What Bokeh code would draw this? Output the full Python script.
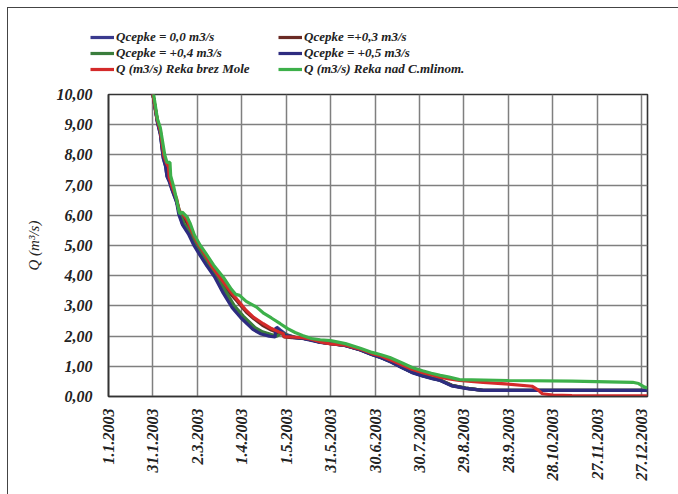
from bokeh.plotting import figure
from bokeh.layouts import column
from bokeh.models import (Range1d, FixedTicker, CustomJSTickFormatter, Legend, LegendItem)
from bokeh.embed import file_html
from bokeh.resources import INLINE
import math

# ---------------- data ----------------
tick_days = [0, 30, 60, 90, 120, 150, 180, 210, 240, 270, 300, 330, 360]
tick_labels = ["1.1.2003", "31.1.2003", "2.3.2003", "1.4.2003", "1.5.2003", "31.5.2003",
               "30.6.2003", "30.7.2003", "29.8.2003", "28.9.2003", "28.10.2003",
               "27.11.2003", "27.12.2003"]
y_ticks = [0, 1, 2, 3, 4, 5, 6, 7, 8, 9, 10]

# Qcepke = 0,0 m3/s
q00_days = [28, 30, 33, 35, 37, 38.5, 39.5, 41, 43, 46, 48, 50, 55, 58, 62, 67, 72, 78, 84,
            90, 98, 103, 109, 113, 113.5, 116, 120, 126, 131, 137, 143, 150, 160, 170,
            178, 184, 190, 198, 205, 212, 218, 224, 232, 241, 253, 300, 364]
q00_vals = [10.6, 10.0, 9.1, 8.7, 7.9, 7.65, 7.3, 7.15, 6.85, 6.45, 6.05, 5.7, 5.4, 5.05,
            4.72, 4.35, 4.0, 3.45, 2.96, 2.62, 2.24, 2.1, 2.02, 1.98, 2.3, 2.2, 2.05, 1.96,
            1.93, 1.87, 1.8, 1.76, 1.69, 1.55, 1.39, 1.29, 1.17, 0.97, 0.8, 0.69, 0.61,
            0.54, 0.36, 0.28, 0.2, 0.2, 0.2]

# Qcepke = +0,3 m3/s
q03_days = [28, 30, 33, 35, 37.5, 39, 40.5, 41, 43, 46, 48, 50, 53, 56, 60, 64, 70, 76,
            82, 87, 93, 98, 104, 110, 115, 118, 118.5, 124, 131, 137, 143, 150, 160, 170,
            178, 184, 190, 198, 205, 212, 218, 224, 232, 241, 253, 300, 364]
q03_vals = [10.6, 10.0, 9.12, 8.75, 7.92, 7.72, 7.55, 7.22, 6.9, 6.48, 6.05, 5.95, 5.75,
            5.42, 5.0, 4.68, 4.22, 3.82, 3.42, 3.15, 2.8, 2.58, 2.36, 2.2, 2.1, 2.05, 1.97,
            1.95, 1.93, 1.88, 1.8, 1.75, 1.69, 1.55, 1.4, 1.3, 1.18, 0.98, 0.81, 0.7, 0.62,
            0.55, 0.37, 0.28, 0.2, 0.2, 0.2]

# Qcepke = +0,4 m3/s
q04_days = [28, 30, 33, 35, 37, 39, 40, 41.5, 43.5, 46, 48.5, 51, 56, 59, 63, 68, 73, 79,
            85, 91, 99, 104, 110, 114, 117, 121, 126, 131, 137, 143, 150, 160, 170, 178,
            184, 190, 198, 205, 212, 218, 224, 232, 241, 253, 300, 364]
q04_vals = [10.6, 10.0, 9.15, 8.75, 7.95, 7.68, 7.35, 7.18, 6.88, 6.47, 6.05, 5.72, 5.42,
            5.08, 4.75, 4.38, 4.02, 3.5, 3.0, 2.66, 2.28, 2.14, 2.05, 2.0, 2.12, 2.02, 1.96,
            1.93, 1.87, 1.8, 1.76, 1.69, 1.55, 1.39, 1.29, 1.17, 0.97, 0.8, 0.69, 0.61, 0.54,
            0.36, 0.28, 0.2, 0.2, 0.2]

# Qcepke = +0,5 m3/s
q05_days = [28, 30, 33, 35, 37, 38.5, 39.5, 41, 43, 46, 47.5, 50, 54, 57.5, 61.5, 66.5, 71.5,
            77.5, 83.5, 89.5, 97.5, 102.5, 108.5, 112.5, 113, 115.5, 119.5, 125.5, 131, 137,
            143, 150, 160, 170, 178, 184, 190, 198, 205, 212, 218, 224, 232, 241, 253, 300, 364]
q05_vals = [10.6, 10.0, 9.08, 8.68, 7.88, 7.62, 7.28, 7.12, 6.82, 6.43, 6.02, 5.68, 5.38,
            5.02, 4.7, 4.32, 3.97, 3.42, 2.94, 2.6, 2.22, 2.08, 2.0, 1.97, 2.28, 2.18, 2.03,
            1.95, 1.92, 1.86, 1.79, 1.75, 1.68, 1.54, 1.38, 1.28, 1.16, 0.96, 0.79, 0.68,
            0.6, 0.53, 0.35, 0.27, 0.2, 0.2, 0.2]

# Q (m3/s) Reka brez Mole
red_days = [28, 30, 33, 35, 37.5, 39, 40.5, 41, 43, 46, 48, 49.5, 53, 56, 60, 64, 70, 76, 82,
            87, 93, 98, 104.5, 110, 115, 118, 118.5, 124, 131, 137, 143, 150, 160, 170, 178,
            184, 190, 198, 205, 212, 218, 224, 230, 237, 253, 268, 286, 290, 293, 300, 313, 364]
red_vals = [10.6, 10.0, 9.15, 8.8, 7.95, 7.75, 7.6, 7.25, 6.95, 6.55, 6.1, 6.1, 5.85, 5.5,
            5.1, 4.8, 4.3, 3.9, 3.5, 3.2, 2.85, 2.62, 2.41, 2.25, 2.14, 2.08, 1.98, 1.97,
            1.95, 1.9, 1.81, 1.74, 1.7, 1.57, 1.42, 1.34, 1.22, 1.05, 0.9, 0.8, 0.72, 0.64,
            0.58, 0.53, 0.47, 0.42, 0.34, 0.22, 0.09, 0.05, 0.03, 0.02]

# Q (m3/s) Reka nad C.mlinom.
grn_days = [28, 30.5, 33, 35, 38, 39.5, 41.5, 42, 44, 46.5, 48, 50, 53, 55, 58, 62, 66, 71,
            77.5, 83, 86, 88.5, 93, 100, 105, 110, 116, 121, 126, 131, 137, 143, 150, 160,
            170, 178, 184, 190, 198, 205, 212, 218, 224, 230, 237, 270, 313, 354, 358, 362, 364]
grn_vals = [10.6, 10.0, 9.2, 8.9, 8.0, 7.75, 7.75, 7.3, 6.95, 6.4, 6.05, 6.1, 5.95, 5.75,
            5.35, 5.0, 4.72, 4.35, 3.95, 3.55, 3.38, 3.35, 3.15, 2.96, 2.75, 2.6, 2.41, 2.25,
            2.12, 2.02, 1.92, 1.88, 1.85, 1.75, 1.6, 1.46, 1.38, 1.29, 1.12, 0.96, 0.85,
            0.77, 0.7, 0.64, 0.56, 0.53, 0.51, 0.47, 0.43, 0.31, 0.28]

series = [
    ("Qcepke = 0,0 m3/s", q00_days, q00_vals, "#3a3a8e"),
    ("Qcepke =+0,3 m3/s", q03_days, q03_vals, "#6a2a24"),
    ("Qcepke = +0,4 m3/s", q04_days, q04_vals, "#3a7d3c"),
    ("Qcepke = +0,5 m3/s", q05_days, q05_vals, "#2e2c80"),
    ("Q (m3/s) Reka brez Mole", red_days, red_vals, "#d42a2a"),
    ("Q (m3/s) Reka nad C.mlinom.", grn_days, grn_vals, "#3db04a"),
]

FONT = "Liberation Serif"
LW = 3.2
TOP_H = 80

# ---------------- legend strip (top) ----------------
# its ranges lie far from the data, so the series only feed the legend swatches here
top = figure(width=678, height=TOP_H, output_backend="svg", toolbar_location=None,
             x_range=Range1d(1000, 1001), y_range=Range1d(1000, 1001),
             x_axis_location=None, y_axis_location=None,
             min_border_left=0, min_border_right=0, min_border_top=0, min_border_bottom=0)
try:
    top.frame_align = False
except AttributeError:
    pass
top.styles = {"box-shadow": "inset 7px 7px 0 0 #ffffff, inset 8px 8px 0 0 #444444",
              "background-color": "#ffffff"}
top.grid.visible = False
top.outline_line_color = None
top.background_fill_color = None
top.border_fill_color = None

leg_renderers = []
for name, d, v, c in series:
    rr = top.line(d, v, line_color=c, line_width=LW)
    leg_renderers.append((name, rr))

def make_legend(items, loc):
    lg = Legend(items=[LegendItem(label=n, renderers=[r]) for n, r in items],
                location=loc, orientation="vertical")
    lg.label_text_font = FONT
    lg.label_text_font_style = "bold italic"
    lg.label_text_font_size = "13px"
    lg.label_text_color = "#222222"
    lg.label_standoff = 2
    lg.label_height = 16
    lg.glyph_height = 16
    lg.glyph_width = 24
    lg.spacing = 0
    lg.padding = 0
    lg.margin = 0
    lg.border_line_color = None
    lg.background_fill_alpha = 0
    return lg

top.add_layout(make_legend([leg_renderers[0], leg_renderers[2], leg_renderers[4]],
                           (90, TOP_H - 77)))
top.add_layout(make_legend([leg_renderers[1], leg_renderers[3], leg_renderers[5]],
                           (278, TOP_H - 77)))

# ---------------- main chart ----------------
p = figure(width=678, height=494 - TOP_H, output_backend="svg", toolbar_location=None,
           x_range=Range1d(0, 364), y_range=Range1d(0, 10),
           min_border_left=108, min_border_right=31, min_border_top=94 - TOP_H,
           min_border_bottom=98)
try:
    p.frame_align = False
except AttributeError:
    pass
p.styles = {"box-shadow": "inset 7px 0 0 0 #ffffff, inset 8px 0 0 0 #444444",
            "background-color": "#ffffff"}
p.background_fill_color = "white"
p.border_fill_color = None
p.outline_line_color = "#333333"
p.outline_line_width = 1.6

p.xgrid.ticker = FixedTicker(ticks=tick_days)
p.ygrid.ticker = FixedTicker(ticks=y_ticks)
for g in (p.xgrid, p.ygrid):
    g.grid_line_color = "#7f7f7f"
    g.grid_line_width = 1.5

xa = p.xaxis[0]
xa.ticker = FixedTicker(ticks=tick_days)
xa.major_label_overrides = {d: l for d, l in zip(tick_days, tick_labels)}
xa.major_label_orientation = math.pi / 2
xa.major_label_text_font = FONT
xa.major_label_text_font_style = "bold italic"
xa.major_label_text_font_size = "16px"
xa.major_label_text_color = "#222222"
xa.major_label_standoff = 6
xa.major_tick_line_color = None
xa.minor_tick_line_color = None
xa.axis_line_color = "#333333"
xa.axis_line_width = 1.6

ya = p.yaxis[0]
ya.ticker = FixedTicker(ticks=y_ticks)
ya.formatter = CustomJSTickFormatter(code="return tick.toFixed(2).replace('.', ',');")
ya.major_label_text_font = FONT
ya.major_label_text_font_style = "bold italic"
ya.major_label_text_font_size = "16px"
ya.major_label_text_color = "#222222"
ya.major_label_standoff = 10
ya.major_tick_line_color = None
ya.minor_tick_line_color = None
ya.axis_line_color = "#333333"
ya.axis_line_width = 1.6
ya.axis_label = "Q (m\u00b3/s)"
ya.axis_label_text_font = FONT
ya.axis_label_text_font_style = "italic"
ya.axis_label_text_font_size = "15px"
ya.axis_label_text_color = "#222222"
ya.axis_label_standoff = 12

for name, d, v, c in series:
    p.line(d, v, line_color=c, line_width=LW)

layout = column(top, p, spacing=0)
open("out.html", "w").write(file_html(layout, INLINE))
